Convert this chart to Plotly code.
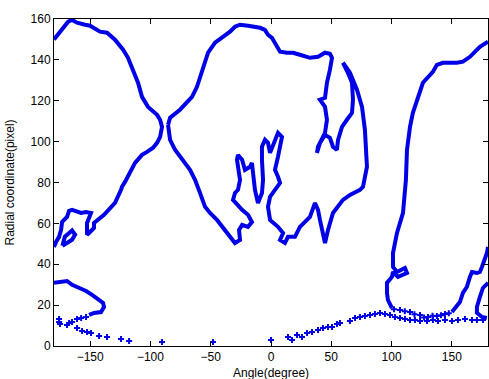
import plotly.graph_objects as go

# ---- data (angle in degrees, radial coordinate in pixels) ----
left_lobe_angle = [-180, -173.3, -168.3, -165.0, -160.9, -154.2, -150.1, -141.8, -136.0, -129.4,
                   -122.7, -118.6, -114.4, -110.3, -107.0, -102.0, -94.5, -92.0, -90.4, -92.0,
                   -94.5, -97.8, -102.8, -107.0, -112.8, -116.9, -121.1, -123.6, -124.4, -129.4,
                   -138.5, -146.8, -146.8, -150.9, -152.6, -152.6, -150.9, -149.3, -153.4, -157.5,
                   -165.0, -167.5, -169.2, -173.3, -174.1, -175.8, -178.3, -180]
left_lobe_radius = [150, 154.7, 158.7, 159.5, 158.2, 157.2, 156.7, 153.8, 153.3, 149.9,
                    145.0, 141.0, 135.2, 128.8, 121.9, 117.0, 113.1, 110.7, 107.2, 102.3,
                    99.4, 97.0, 95.0, 93.5, 89.6, 84.7, 80.3, 77.9, 76.4, 70.0,
                    64.2, 60.2, 57.8, 55.3, 54.4, 60.2, 62.7, 65.1, 65.6, 65.1,
                    66.6, 66.1, 63.2, 60.7, 56.8, 53.4, 50.9, 48.5]

islet_angle = [-173, -171, -165, -162.5, -165, -171, -173]
islet_radius = [49, 53.5, 56.5, 54.5, 52, 49.5, 49]

center_angle = [-85.4, -83.7, -75.5, -69.7, -65.5, -61.4, -58.9, -54.7, -52.2, -46.4,
                -40.6, -34.0, -29.9, -25.7, -19.1, -13.3, -9.1, -5.0, -2.5, 0.8,
                4.1, 7.5, 13.3, 18.2, 24.0, 32.3, 39.0, 44.8, 48.9, 50.6,
                48.9, 46.4, 44.8, 40.6, 44.8, 46.4, 44.8, 39.0, 38.1, 40.6,
                44.8, 48.9, 51.4, 54.7, 55.6, 58.9, 63.0, 67.2, 68.0, 67.2,
                63.8, 61.4, 59.7, 65.5, 71.3, 75.5, 77.9, 79.6, 77.9, 76.3,
                73.8, 65.5, 59.7, 51.4, 47.3, 44.8, 40.6, 39.0, 36.5, 32.3,
                24.0, 19.9, 14.1, 11.6, 7.5, 10.0, 5.8, -0.8, -2.5, -0.8,
                3.3, 7.5, 5.8, 3.3, 5.8, 9.1, 5.8, 1.7, -0.8, -2.5,
                -5.0, -7.5, -7.5, -6.6, -7.5, -10.8, -13.3, -14.9, -15.8, -17.4,
                -21.6, -24.0, -27.4, -28.2, -25.7, -27.4, -29.9, -31.5, -28.2, -24.0,
                -19.1, -15.8, -19.1, -24.0, -26.5, -25.7, -29.9, -34.0, -39.8, -44.8,
                -50.6, -54.7, -58.9, -63.0, -67.2, -73.0, -79.6, -83.7, -85.4, -85.4]
center_radius = [108.2, 111.7, 115.6, 119.0, 121.9, 126.8, 131.7, 139.1, 143.5, 148.4,
                 150.8, 153.8, 156.2, 157.2, 156.7, 156.2, 155.7, 154.7, 152.3, 150.8,
                 147.4, 144.0, 143.5, 143.5, 142.5, 141.0, 141.5, 143.5, 143.0, 141.0,
                 135.2, 128.8, 121.4, 120.5, 117.0, 110.7, 104.3, 97.5, 94.5, 99.4,
                 103.3, 101.9, 97.5, 96.0, 100.9, 107.2, 110.7, 114.1, 120.5, 128.8,
                 133.7, 136.6, 138.6, 133.7, 125.4, 117.0, 105.8, 87.7, 81.3, 77.9,
                 76.4, 73.9, 71.5, 65.1, 56.8, 50.4, 61.7, 66.6, 70.0, 63.2,
                 58.3, 53.4, 53.4, 50.4, 51.9, 55.3, 58.3, 61.7, 68.1, 73.0,
                 76.4, 79.8, 82.8, 86.2, 92.6, 102.3, 104.3, 97.5, 94.5, 99.4,
                 100.9, 97.5, 91.1, 81.3, 74.9, 70.0, 76.4, 84.7, 89.6, 87.7,
                 86.2, 91.1, 93.5, 91.1, 81.3, 76.4, 74.9, 71.5, 69.0, 66.6,
                 64.2, 60.7, 58.3, 59.3, 56.8, 51.9, 50.4, 53.4, 58.3, 61.7,
                 65.1, 68.1, 74.9, 81.3, 86.2, 91.1, 96.0, 100.9, 105.8, 108.2]

right_upper_angle = [180, 173.3, 165.0, 159.2, 154.2, 148.4, 142.6, 137.6, 134.3, 126.0,
                     121.9, 117.7, 115.3, 112.8, 111.9, 109.5, 104.5, 101.2, 101.2, 104.5,
                     111.1, 112.8, 105.3, 101.2, 100.3, 96.2, 96.2, 97.0, 100.3]
right_upper_radius = [148.9, 146.4, 141.5, 139.1, 138.6, 138.6, 138.6, 137.6, 134.2, 128.8,
                      121.9, 114.1, 107.2, 96.0, 81.3, 65.1, 55.3, 45.5, 38.7, 36.2,
                      38.2, 35.7, 33.8, 36.2, 33.8, 30.9, 26.0, 22.5, 18.6]

right_rise_angle = [150.1, 156.7, 159.2, 162.5, 165.0, 166.7, 170.8, 173.3, 175.0, 177.5, 179.1, 180]
right_rise_radius = [16.6, 21.5, 26.0, 28.9, 33.8, 36.2, 35.7, 36.2, 38.7, 42.1, 45.5, 48.5]

right_low_angle = [180, 175.8, 173.3, 170.8, 170.8, 175.0, 179.1]
right_low_radius = [30.9, 28.4, 24.0, 19.1, 16.2, 14.2, 13.7]

left_low_angle = [-180, -174.1, -169.2, -165.0, -159.2, -153.4, -148.4, -142.6, -139.3, -138.5,
                  -141.0, -146.8, -150.9]
left_low_radius = [30.9, 31.3, 31.8, 29.9, 28.4, 26.9, 25.0, 22.5, 21.1, 19.1,
                   16.6, 16.2, 15.2]

# sparse points
dots_angle = [-153.4, -157.5, -160.9, -165.0, -167.5, -169.2, -175.8, -175.8, -175.0,
              -160.9, -156.7, -152.6, -149.3, -142.6, -136.0, -124.4, -117.7, -90.4, -48.1, 0,
              14.1, 17.4, 21.6, 25.7, 29.9, 34.0, 39.0, 43.1, 47.3, 50.6, 54.7, 57.2, 65.5,
              69.7, 73.8, 77.9, 82.1, 86.2, 90.4, 94.5, 98.7, 102.8, 107.0, 111.1, 115.3,
              119.4, 123.6, 129.4, 134.3, 138.5, 144.3, 150.1, 155.1, 160.9, 166.7, 170.8, 175.8,
              102.0, 107.0, 111.0, 115.3, 119.0, 123.6, 127.0, 130.2, 134.0, 137.6, 141.0, 144.3, 147.5]
dots_radius = [14.2, 13.7, 13.2, 11.8, 11.3, 10.3, 13.2, 11.8, 10.8,
               8.8, 7.3, 6.9, 6.4, 4.9, 4.4, 3.4, 2.4, 2.0, 2.0, 2.9,
               4.4, 2.9, 5.4, 4.4, 6.4, 6.9, 7.8, 8.8, 9.3, 9.3, 10.8, 11.3, 12.2,
               13.7, 14.2, 14.7, 15.2, 15.7, 16.2, 15.7, 15.2, 14.2, 13.7, 13.2, 12.7,
               12.7, 12.2, 12.2, 12.7, 12.2, 12.7, 12.2, 12.7, 13.2, 12.7, 12.7, 12.7,
               18.0, 17.6, 17.0, 16.6, 15.5, 15.2, 14.0, 14.2, 14.8, 14.7, 15.0, 15.7, 16.0]

x_ticks = [-150, -100, -50, 0, 50, 100, 150]
y_ticks = [0, 20, 40, 60, 80, 100, 120, 140, 160]

BLUE = "#0000e6"
fig = go.Figure()
line_style = dict(color=BLUE, width=4)
for xs, ys in [(left_lobe_angle, left_lobe_radius), (islet_angle, islet_radius),
               (center_angle, center_radius), (right_upper_angle, right_upper_radius),
               (right_rise_angle, right_rise_radius), (right_low_angle, right_low_radius),
               (left_low_angle, left_low_radius)]:
    fig.add_trace(go.Scatter(x=xs, y=ys, mode="lines", line=line_style,
                             hoverinfo="skip", showlegend=False))
fig.add_trace(go.Scatter(x=dots_angle, y=dots_radius, mode="markers",
                         marker=dict(symbol="cross", size=5, color=BLUE),
                         hoverinfo="skip", showlegend=False))

font = dict(family="Liberation Sans, Arial, sans-serif", size=12, color="black")
axis_common = dict(showgrid=False, zeroline=False, showline=True, mirror="ticks",
                   linecolor="black", linewidth=1, ticks="inside", ticklen=5,
                   tickcolor="black", tickfont=font)
fig.update_layout(
    width=489, height=379,
    margin=dict(l=54, r=1, t=19, b=33),
    paper_bgcolor="white", plot_bgcolor="white",
    font=font,
    xaxis=dict(range=[-180, 180], tickvals=x_ticks, **axis_common),
    yaxis=dict(range=[0, 160], tickvals=y_ticks, **axis_common),
    annotations=[
        dict(text="Angle(degree)", x=0.5, y=0, xref="paper", yref="paper",
             xanchor="center", yanchor="top", yshift=-18, showarrow=False, font=font),
        dict(text="Radial coordinate(pixel)", x=0, y=0.5, xref="paper", yref="paper",
             xanchor="right", yanchor="middle", xshift=-36, textangle=-90,
             showarrow=False, font=font),
    ],
)
fig.write_html("out.html")
